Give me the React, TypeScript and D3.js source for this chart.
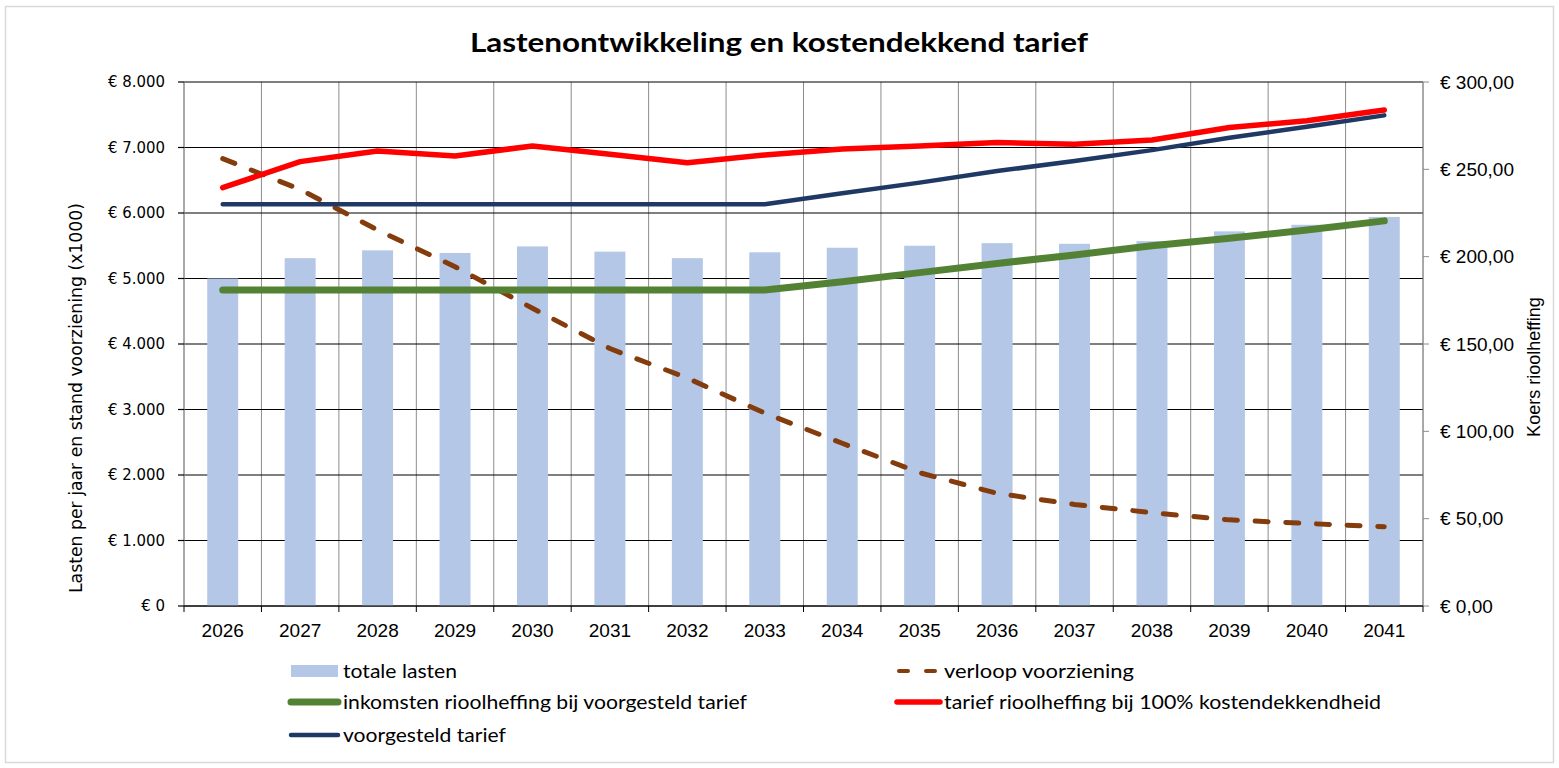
import * as d3 from "d3";

const years = ["2026", "2027", "2028", "2029", "2030", "2031", "2032", "2033", "2034", "2035", "2036", "2037", "2038", "2039", "2040", "2041"];
// left axis (x1000)
const totaleLasten = [5000, 5310, 5430, 5390, 5490, 5410, 5310, 5400, 5470, 5500, 5540, 5530, 5570, 5720, 5820, 5940];
const verloopVoorziening = [6830, 6360, 5740, 5180, 4545, 3930, 3480, 2945, 2485, 2035, 1720, 1550, 1425, 1315, 1260, 1210];
const inkomsten = [4825, 4825, 4825, 4825, 4825, 4825, 4825, 4825, 4950, 5090, 5230, 5360, 5500, 5615, 5740, 5880];
// right axis (koers)
const tarief100 = [239.5, 254.4, 260.5, 257.6, 263.4, 258.6, 253.8, 258.2, 261.6, 263.4, 265.3, 264.3, 266.8, 274, 277.8, 284];
const voorgesteldTarief = [230, 230, 230, 230, 230, 230, 230, 230, 236.3, 242.4, 249, 254.8, 261, 268.1, 274.4, 280.9];

const leftTicks = [0, 1000, 2000, 3000, 4000, 5000, 6000, 7000, 8000];
const rightTicks = [0, 50, 100, 150, 200, 250, 300];

const W = 1559;
const H = 768;
const plot = { left: 184, right: 1423, top: 82, bottom: 606 };

const colors = {
  bar: "#B4C7E7",
  dashed: "#843C0C",
  green: "#548235",
  red: "#FF0000",
  blue: "#1F3864",
};

export default function App() {
  const x = d3
    .scaleBand<string>()
    .domain(years)
    .range([plot.left, plot.right])
    .paddingInner(0.6)
    .paddingOuter(0.3);
  const step = x.step();
  const cx = (d: string) => x(d)! + x.bandwidth() / 2;
  const yL = d3.scaleLinear().domain([0, 8000]).range([plot.bottom, plot.top]);
  const yR = d3.scaleLinear().domain([0, 300]).range([plot.bottom, plot.top]);

  const lineL = d3
    .line<number>()
    .x((_, i) => cx(years[i]))
    .y((d) => yL(d));
  const lineR = d3
    .line<number>()
    .x((_, i) => cx(years[i]))
    .y((d) => yR(d));

  const fmtL = (v: number) => `€ ${d3.format(",")(v).replace(/,/g, ".")}`;
  const fmtR = (v: number) => `€ ${d3.format(".2f")(v).replace(".", ",")}`;

  const boundaries = d3.range(years.length + 1).map((i) => plot.left + i * step);

  const legendFont = "Lato, 'Open Sans', sans-serif";

  return (
    <svg
      width={W}
      height={H}
      style={{ position: "absolute", left: 0, top: 0, background: "#fff" }}
    >
      <rect x={5.5} y={6.5} width={1548} height={756} fill="#fff" stroke="#D9D9D9" strokeWidth={1.5} />

      <text
        x={779}
        y={52}
        textAnchor="middle"
        fontFamily="Lato, sans-serif"
        fontWeight={700}
        fontSize={27}
        textLength={618}
        lengthAdjust="spacingAndGlyphs"
      >
        Lastenontwikkeling en kostendekkend tarief
      </text>

      {/* vertical gridlines */}
      {boundaries.map((bx, i) => (
        <line key={"vg" + i} x1={bx} x2={bx} y1={plot.top} y2={plot.bottom} stroke="#8C8C8C" strokeWidth={1} />
      ))}
      {/* horizontal gridlines */}
      {leftTicks.map((t) => (
        <line key={"hg" + t} x1={plot.left} x2={plot.right} y1={yL(t)} y2={yL(t)} stroke="#000" strokeWidth={1.2} />
      ))}

      {/* bars */}
      {years.map((yr, i) => (
        <rect
          key={"b" + yr}
          x={x(yr)}
          y={yL(totaleLasten[i])}
          width={x.bandwidth()}
          height={plot.bottom - yL(totaleLasten[i])}
          fill={colors.bar}
        />
      ))}

      {/* left axis */}
      <line x1={plot.left} x2={plot.left} y1={plot.top} y2={plot.bottom} stroke="#8C8C8C" />
      {leftTicks.map((t) => (
        <g key={"lt" + t}>
          <line x1={plot.left - 6} x2={plot.left} y1={yL(t)} y2={yL(t)} stroke="#000" strokeWidth={1.2} />
          <text
            x={165}
            y={yL(t)}
            dy="0.35em"
            textAnchor="end"
            fontFamily="'DejaVu Sans', Verdana, sans-serif"
            fontSize={15}
            textLength={t === 0 ? undefined : 57}
            lengthAdjust="spacingAndGlyphs"
          >
            {fmtL(t)}
          </text>
        </g>
      ))}

      {/* right axis */}
      <line x1={plot.right} x2={plot.right} y1={plot.top} y2={plot.bottom} stroke="#8C8C8C" />
      {rightTicks.map((t) => (
        <g key={"rt" + t}>
          <line x1={plot.right} x2={plot.right + 6} y1={yR(t)} y2={yR(t)} stroke="#8C8C8C" />
          <text
            x={1440}
            y={yR(t)}
            dy="0.35em"
            fontFamily="'Liberation Sans', Arial, sans-serif"
            fontSize={19}
          >
            {fmtR(t)}
          </text>
        </g>
      ))}

      {/* x axis */}
      <line x1={plot.left} x2={plot.right} y1={plot.bottom} y2={plot.bottom} stroke="#000" strokeWidth={1.2} />
      {boundaries.map((bx, i) => (
        <line key={"xt" + i} x1={bx} x2={bx} y1={plot.bottom} y2={plot.bottom + 6} stroke="#000" />
      ))}
      {years.map((yr) => (
        <text
          key={"xl" + yr}
          x={cx(yr)}
          y={637}
          textAnchor="middle"
          fontFamily="'Liberation Sans', Arial, sans-serif"
          fontSize={19}
        >
          {yr}
        </text>
      ))}

      {/* axis titles */}
      <text
        transform="translate(82,398) rotate(-90)"
        textAnchor="middle"
        fontFamily="'DejaVu Sans', Verdana, sans-serif"
        fontSize={17}
        textLength={390}
        lengthAdjust="spacingAndGlyphs"
      >
        Lasten per jaar en stand voorziening (x1000)
      </text>
      <text
        transform="translate(1540,367) rotate(-90)"
        textAnchor="middle"
        fontFamily="'Liberation Sans', Arial, sans-serif"
        fontSize={18}
      >
        Koers rioolheffing
      </text>

      {/* lines */}
      <path d={lineL(verloopVoorziening)!} fill="none" stroke={colors.dashed} strokeWidth={5} strokeDasharray="13 17.7" strokeLinecap="round" />
      <path d={lineL(inkomsten)!} fill="none" stroke={colors.green} strokeWidth={7} strokeLinecap="round" strokeLinejoin="round" />
      <path d={lineR(tarief100)!} fill="none" stroke={colors.red} strokeWidth={5.5} strokeLinecap="round" strokeLinejoin="round" />
      <path d={lineR(voorgesteldTarief)!} fill="none" stroke={colors.blue} strokeWidth={4.5} strokeLinecap="round" strokeLinejoin="round" />

      {/* legend */}
      <g fontFamily={legendFont} fontSize={20} lengthAdjust="spacingAndGlyphs">
        <rect x={291} y={665} width={47} height={12} fill={colors.bar} />
        <text x={343} y={678} textLength={114} lengthAdjust="spacingAndGlyphs">totale lasten</text>

        <line x1={291} x2={338} y1={702} y2={702} stroke={colors.green} strokeWidth={7} strokeLinecap="round" />
        <text x={343} y={709} textLength={404} lengthAdjust="spacingAndGlyphs">inkomsten rioolheffing bij voorgesteld tarief</text>

        <line x1={291} x2={338} y1={735} y2={735} stroke={colors.blue} strokeWidth={4.5} strokeLinecap="round" />
        <text x={343} y={742} textLength={163} lengthAdjust="spacingAndGlyphs">voorgesteld tarief</text>

        <line x1={899} x2={938} y1={671} y2={671} stroke={colors.dashed} strokeWidth={4} strokeDasharray="9 18" strokeLinecap="round" />
        <text x={944} y={678} textLength={190} lengthAdjust="spacingAndGlyphs">verloop voorziening</text>

        <line x1={897} x2={940} y1={702} y2={702} stroke={colors.red} strokeWidth={5.5} strokeLinecap="round" />
        <text x={944} y={709} textLength={437} lengthAdjust="spacingAndGlyphs">tarief rioolheffing bij 100% kostendekkendheid</text>
      </g>
    </svg>
  );
}
